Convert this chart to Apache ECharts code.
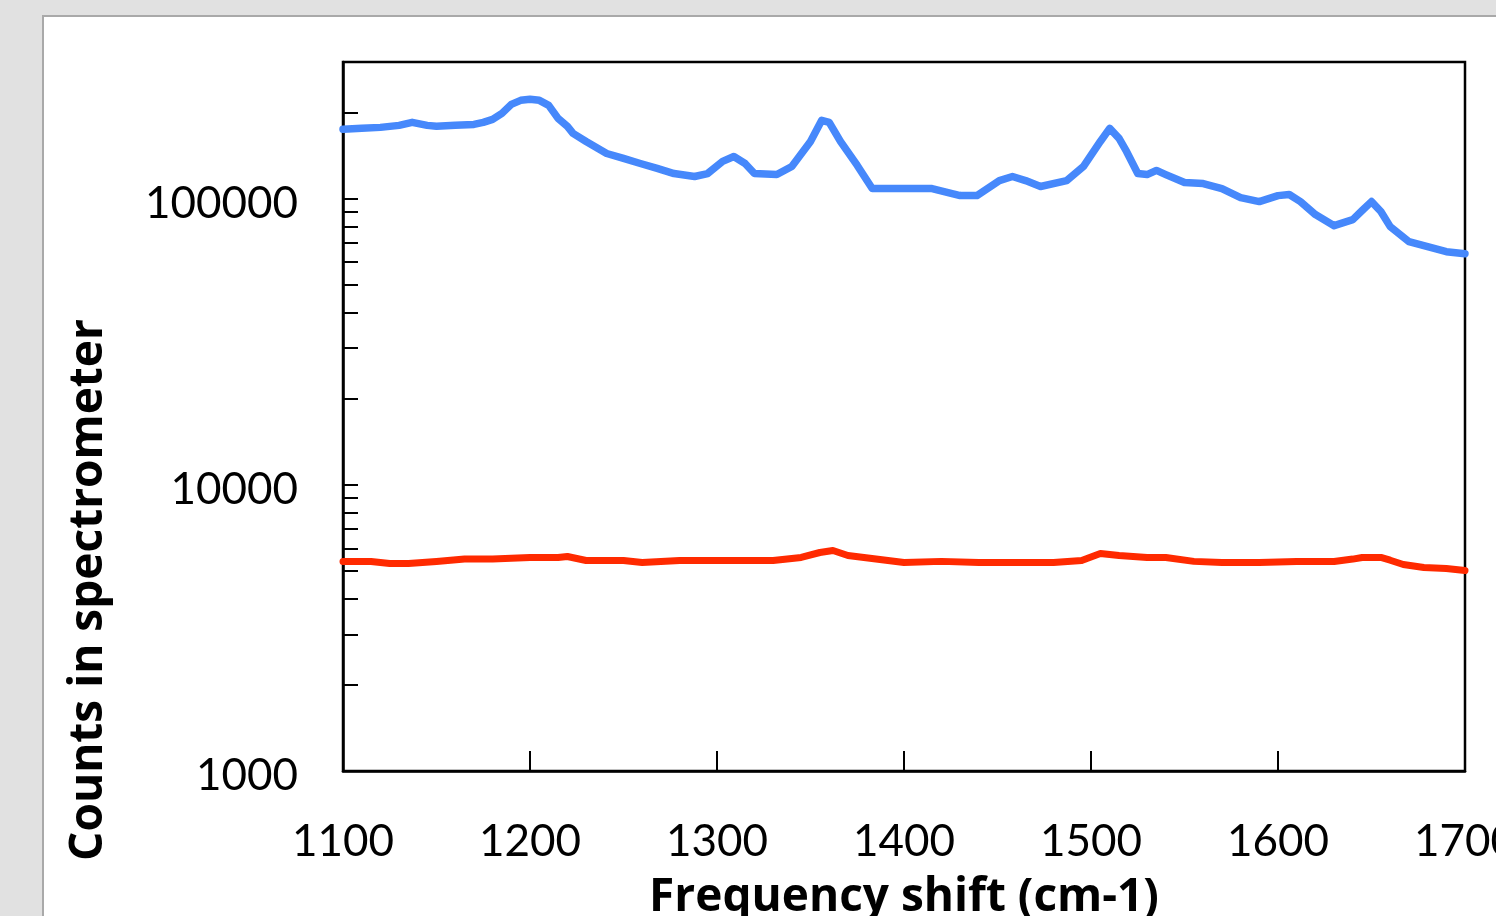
<!DOCTYPE html>
<html>
<head>
<meta charset="utf-8">
<title>Counts in spectrometer</title>
<script src="https://cdn.jsdelivr.net/npm/echarts@6.0.0/dist/echarts.min.js"></script>
<style>
  html, body { margin: 0; padding: 0; background: #e1e1e1; overflow: hidden; }
  #panel {
    position: absolute; left: 42px; top: 15px; width: 1500px; height: 960px;
    background: #fff; border: 2px solid #a9a9a9; box-sizing: border-box;
  }
  #chart { position: absolute; left: 0; top: 0; width: 1496px; height: 916px; }
</style>
</head>
<body>
<div id="panel"></div>
<div id="chart"></div>
<script>
// x ticks (cm-1)
const xTicks = [1100, 1200, 1300, 1400, 1500, 1600, 1700]
// y labels and all the tick marks on the log axis
const yLabels = [1000, 10000, 100000]
const yTickValues = [1000, 2000, 3000, 4000, 5000, 6000, 7000, 8000, 9000,
  10000, 20000, 30000, 40000, 50000, 60000, 70000, 80000, 90000,
  100000, 200000, 300000]

// blue trace
const blueShift = [1100, 1110, 1120, 1130, 1137, 1145, 1150, 1160, 1170, 1175,
  1180, 1185, 1190, 1195, 1200, 1205, 1210, 1215, 1220, 1223,
  1230, 1241, 1250, 1259, 1268, 1277, 1288, 1295, 1303, 1309,
  1315, 1320, 1332, 1340, 1344, 1350, 1356, 1360, 1366, 1375,
  1383, 1395, 1415, 1430, 1439, 1451, 1458, 1465, 1473, 1487,
  1496, 1505, 1510, 1515, 1519, 1525, 1530, 1535, 1540, 1550,
  1560, 1570, 1580, 1590, 1600, 1606, 1612, 1620, 1630, 1640,
  1645, 1650, 1655, 1660, 1670, 1680, 1690, 1700]
const blueCounts = [174500, 175900, 177300, 180200, 184600, 180200, 178800, 180200, 181600, 184600,
  189100, 198500, 213400, 220400, 222300, 220400, 211700, 190600, 178800, 168900,
  158300, 143700, 138100, 132600, 127400, 122300, 119400, 122300, 134800, 140300,
  132600, 122300, 121300, 129500, 140300, 158300, 187600, 184600, 158300, 130500,
  108400, 108400, 108400, 102400, 102400, 115600, 119400, 115600, 110200, 115600,
  129500, 158300, 175900, 162300, 146100, 122300, 121300, 125400, 121300, 113800,
  112800, 108400, 100800, 97600, 102400, 103300, 97600, 87900, 80400, 84400,
  90800, 97600, 90100, 79800, 70700, 67900, 65200, 64200]

// red trace
const redShift = [1100, 1115, 1125, 1135, 1150, 1165, 1180, 1200, 1215, 1220,
  1230, 1250, 1260, 1280, 1300, 1330, 1345, 1355, 1362, 1370,
  1385, 1400, 1420, 1440, 1460, 1480, 1495, 1505, 1515, 1530,
  1540, 1555, 1570, 1590, 1610, 1630, 1640, 1645, 1655, 1660,
  1667, 1678, 1690, 1700]
const redCounts = [5395, 5395, 5309, 5309, 5395, 5500, 5500, 5573, 5573, 5618,
  5439, 5439, 5352, 5439, 5439, 5439, 5573, 5800, 5896, 5663,
  5500, 5352, 5400, 5352, 5352, 5352, 5439, 5756, 5663, 5573,
  5573, 5400, 5352, 5352, 5395, 5395, 5500, 5573, 5573, 5450,
  5267, 5140, 5100, 5017]

const zip = (xs, ys) => xs.map((x, i) => [x, ys[i]])

const font = 'Lato, "Open Sans", sans-serif'
const titleFont = '"Open Sans", Lato, sans-serif'

const chart = echarts.init(document.getElementById('chart'), null, { renderer: 'canvas' })
chart.setOption({
  animation: false,
  backgroundColor: 'transparent',
  grid: {
    left: 343, top: 62, right: 31, bottom: 145,
    outerBoundsMode: 'none', containLabel: false,
    show: true, borderColor: '#000', borderWidth: 2.5, backgroundColor: 'transparent'
  },
  xAxis: {
    type: 'value',
    min: xTicks[0], max: xTicks[xTicks.length - 1], interval: 100,
    name: 'Frequency shift (cm-1)',
    nameLocation: 'middle',
    nameGap: 104,
    nameTextStyle: { fontFamily: titleFont, fontWeight: 'bold', fontSize: 46, color: '#000' },
    axisLine: { lineStyle: { color: '#000', width: 2.5 } },
    axisTick: { inside: true, length: 20, lineStyle: { color: '#000', width: 2 } },
    axisLabel: {
      fontFamily: font, fontSize: 44, color: '#000', margin: 49,
      formatter: v => String(v)
    },
    splitLine: { show: false }
  },
  yAxis: {
    type: 'log', logBase: 10,
    min: 1000, max: 300000,
    axisLine: { show: true, lineStyle: { color: '#000', width: 2.5 } },
    axisTick: {
      show: true, inside: true, length: 15,
      customValues: yTickValues,
      lineStyle: { color: '#000', width: 2 }
    },
    axisLabel: {
      color: '#000', margin: 45,
      formatter: v => (yLabels.indexOf(Math.round(v)) >= 0 ? '{n|' + Math.round(v) + '}' : ''),
      rich: {
        n: { fontFamily: font, fontSize: 44, color: '#000', padding: [10, 0, 0, 0] }
      }
    },
    splitLine: { show: false }
  },
  graphic: [{
    type: 'text',
    x: 89, y: 590,
    rotation: Math.PI / 2,
    style: {
      text: 'Counts in spectrometer',
      fontFamily: titleFont, fontWeight: 'bold', fontSize: 46, fill: '#000',
      align: 'center', verticalAlign: 'middle'
    }
  }],
  series: [
    {
      type: 'line',
      data: zip(blueShift, blueCounts),
      showSymbol: false,
      lineStyle: { color: '#4688fb', width: 7.5, cap: 'round', join: 'round' },
      itemStyle: { color: '#4688fb' }
    },
    {
      type: 'line',
      data: zip(redShift, redCounts),
      showSymbol: false,
      lineStyle: { color: '#ff2a00', width: 7, cap: 'round', join: 'round' },
      itemStyle: { color: '#ff2a00' }
    }
  ]
})
</script>
</body>
</html>
